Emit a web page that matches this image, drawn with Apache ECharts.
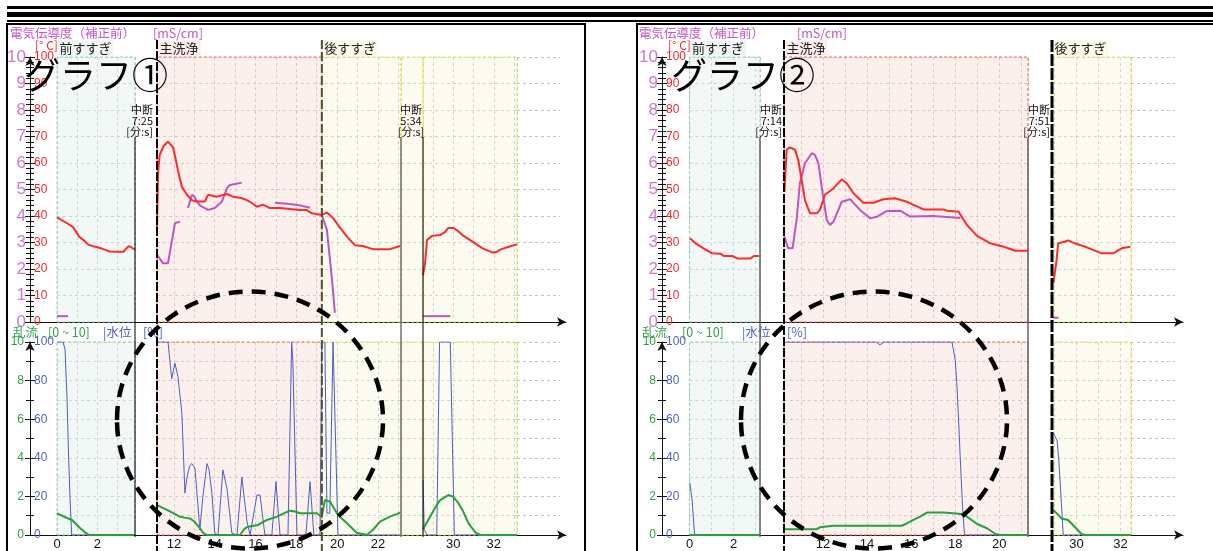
<!DOCTYPE html>
<html lang="ja">
<head>
<meta charset="utf-8">
<title>電気伝導度・乱流・水位</title>
<script src="https://cdn.jsdelivr.net/npm/echarts@6.0.0/dist/echarts.min.js"></script>
<style>
  html, body { margin: 0; padding: 0; background: #fff; }
  #chart { width: 1213px; height: 551px; }
</style>
</head>
<body>
<div id="chart"></div>
<script>
// ---------- measured series, each point is [minute, value] ----------
// graph ①
const g1Temp = [ // °C (red, 0–100)
  [0, 39.5], [0.3, 38.2], [0.6, 36.8], [0.8, 35.8], [0.95, 34], [1.1, 32.2], [1.3, 31], [1.55, 29.2],
  [1.8, 28.6], [2.1, 28], [2.4, 27.2], [2.6, 26.6], [3.0, 26.5], [3.3, 26.5], [3.45, 27.8], [3.55, 28.6],
  [3.65, 28.4], [3.75, 27.8], [3.87, 27.4],
  [11.17, 35.5], [11.22, 56], [11.3, 63], [11.5, 66.5], [11.71, 68], [11.95, 66], [12.1, 61], [12.2, 57],
  [12.39, 51], [12.64, 48], [12.88, 46], [13.1, 45.5], [13.52, 45.5], [13.67, 48], [14.1, 47.3], [14.6, 48.3],
  [14.9, 47.3], [15.3, 46.8], [15.58, 46], [15.8, 45], [16.07, 43.5], [16.36, 44.3], [16.7, 43], [17.2, 43],
  [17.69, 42.6], [18.18, 42.3], [18.5, 42.3], [18.76, 41], [19.25, 40.4], [19.5, 41.3], [19.8, 39.2],
  [20.1, 36], [20.48, 32.2], [20.87, 29], [21.26, 28.7], [21.75, 27.5], [22.59, 27.5], [23.1, 28.7],
  [28.5, 17.7], [28.6, 22], [28.7, 31], [28.95, 32.5], [29.35, 32.8], [29.6, 34], [29.75, 35.5], [30.0, 35.5],
  [30.2, 34.5], [30.45, 32.8], [30.95, 30.3], [31.45, 27.8], [31.95, 26.2], [32.1, 26.3], [32.35, 27.4],
  [32.75, 28.4], [33.15, 29.3]
];
const g1Cond = [ // mS/cm (purple, 0–10)
  [0, 0.22], [0.55, 0.22], [0.56, null],
  [11.17, 2.53], [11.46, 2.22], [11.71, 2.22], [12.05, 3.73], [12.29, 3.78], [12.4, null],
  [12.69, 4.3], [12.88, 4.8], [13.0, 4.75], [13.08, 4.6], [13.27, 4.4], [13.67, 4.23], [14.0, 4.3],
  [14.35, 4.54], [14.6, 5.05], [14.75, 5.17], [15.33, 5.26], [15.4, null],
  [16.95, 4.5], [17.69, 4.45], [18.18, 4.4], [18.67, 4.31], [18.9, null],
  [19.25, 4.04], [19.5, 3.47], [19.75, 1.58], [19.89, 0.35], [19.95, null],
  [28.5, 0.22], [29.85, 0.22]
];
const g1Level = [ // % (blue)
  [0, 100], [0.3, 100], [0.4, 96], [0.5, 70], [0.57, 42], [0.65, 18], [0.73, 0], [3.87, 0],
  [11.17, 100], [11.71, 100], [11.89, 81], [12.05, 89], [12.2, 82], [12.39, 63], [12.54, 21.7], [12.64, 30],
  [12.78, 36], [12.88, 37], [13.03, 34.7], [13.18, 15], [13.27, 2.6], [13.42, 20], [13.62, 37], [13.72, 34],
  [13.86, 21.7], [14.0, 1], [14.16, 0], [14.4, 33.7], [14.6, 24], [14.84, 1], [15.09, 0], [15.33, 30],
  [15.58, 7], [15.73, 0], [16.07, 20.7], [16.22, 20.7], [16.46, 0], [16.8, 0], [17.0, 27.6], [17.2, 0],
  [17.59, 0], [17.77, 100], [17.83, 90], [18.03, 0], [18.47, 0], [18.67, 27.6], [18.86, 0], [19.16, 0],
  [19.25, 100], [19.4, 100], [19.5, 11.3], [19.64, 11.3], [19.8, 100], [19.89, 100], [20.04, 0], [23.13, 0],
  [28.5, 28.5], [28.56, 3], [28.7, 0], [29.18, 0], [29.32, 100], [29.85, 100], [30.05, 0], [33.15, 0]
];
const g1Turb = [ // 0–10 (green)
  [0, 1.12], [0.5, 0.88], [0.75, 0.78], [1.05, 0.45], [1.4, 0.12], [1.6, 0], [3.87, 0],
  [11.17, 1.55], [11.66, 1.3], [12.29, 0.95], [12.54, 0.9], [12.78, 0.86], [13.0, 0.7], [13.27, 0.36],
  [13.42, 0.12], [13.6, 0], [15.24, 0], [15.44, 0.3], [15.63, 0.43], [16.12, 0.52], [16.56, 0.78],
  [17.05, 0.95], [17.44, 1.15], [17.69, 1.26], [17.93, 1.22], [18.18, 1.13], [19.0, 1.13], [19.24, 0.93],
  [19.4, 1.81], [19.65, 1.73], [20.04, 1.04], [20.47, 0.62], [20.96, 0.12], [21.45, 0], [21.75, 0.26],
  [22.1, 0.69], [22.59, 0.95], [23.1, 1.16],
  [28.5, 0.3], [28.85, 0.95], [29.15, 1.5], [29.35, 1.81], [29.75, 2.07], [30.0, 1.98], [30.25, 1.65],
  [30.45, 1.3], [30.75, 0.6], [31.1, 0.12], [31.35, 0], [33.15, 0]
];
// graph ②
const g2Temp = [
  [0.02, 31.6], [0.27, 29.7], [0.64, 27.8], [1.03, 25.9], [1.41, 25.8], [1.55, 24.9], [1.94, 24.9],
  [2.17, 24], [2.77, 24], [2.92, 24.9], [3.15, 24.9],
  [10.25, 49.2], [10.35, 65], [10.5, 65.9], [10.73, 65], [10.88, 61], [11.03, 53.6], [11.18, 46],
  [11.41, 41], [11.71, 41], [11.86, 42.3], [12.09, 48], [12.47, 50.4], [12.85, 53.8], [13.08, 52.3],
  [13.38, 48.6], [13.83, 45], [14.29, 45], [14.74, 46.3], [15.27, 46.7], [15.8, 45.4], [16.1, 44.2],
  [16.56, 42.5], [17.47, 42.5], [17.62, 42], [18.15, 41.6], [18.53, 36.6], [18.99, 32.5], [19.59, 29.7],
  [20.2, 28.4], [20.73, 26.9], [21.3, 26.9],
  [28.95, 14.6], [29.09, 22.8], [29.17, 29.7], [29.47, 30.3], [29.62, 30.8], [29.92, 29.7], [30.3, 28.7],
  [30.76, 27.2], [31.14, 25.9], [31.67, 25.9], [32.05, 27.8], [32.45, 28.4]
];
const g2Cond = [
  [10.25, 3.22], [10.42, 2.78], [10.62, 2.78], [10.8, 3.85], [10.95, 5.23], [11.18, 5.99], [11.49, 6.37],
  [11.64, 6.3], [11.79, 5.99], [11.94, 5.1], [12.17, 3.85], [12.32, 3.66], [12.47, 3.78], [12.85, 4.54],
  [13.23, 4.63], [13.68, 4.23], [14.14, 3.91], [14.44, 3.97], [14.9, 4.19], [15.5, 4.2], [15.95, 3.98],
  [17.01, 4.0], [18.23, 3.92],
  [28.95, 0.16], [29.18, 0.16]
];
const g2Level = [
  [0.02, 26.8], [0.12, 18], [0.23, 0], [3.2, 0],
  [10.23, 100], [14.41, 100], [14.59, 98.5], [14.77, 100], [17.85, 100], [18.0, 90.7], [18.08, 76.8],
  [18.15, 59.6], [18.23, 38.9], [18.33, 14.7], [18.42, 0], [21.3, 0],
  [28.95, 52.7], [29.12, 49], [29.2, 38.9], [29.29, 21.6], [29.4, 0], [32.48, 0]
];
const g2Turb = [
  [0.02, 0], [3.2, 0],
  [10.25, 0.3], [11.71, 0.3], [11.86, 0.4], [12.47, 0.48], [15.58, 0.48], [15.8, 0.6], [16.1, 0.78],
  [16.41, 0.95], [16.71, 1.16], [17.47, 1.16], [18.3, 1.09], [18.53, 0.95], [18.99, 0.57], [19.44, 0.35],
  [19.82, 0.05], [20.05, 0], [21.3, 0],
  [28.95, 1.3], [29.32, 0.86], [29.62, 0.78], [29.92, 0.43], [30.23, 0.05], [30.4, 0], [32.48, 0]
];

// washing phases [start minute, end minute]
const phaseNames = ['前すすぎ', '主洗浄', '後すすぎ'];
const g1Phases = [[0, 3.87], [11.17, 19.25], [19.25, 33.15]];
const g2Phases = [[0, 3.2], [10.23, 21.3], [28.89, 32.48]];
// pause durations [分:s]
const g1Pauses = ['7:25', '5:34'];
const g2Pauses = ['7:14', '7:51'];
const graphTitles = ['グラフ①', 'グラフ②'];

// ---------- styling ----------
const JP = "'Noto Sans CJK JP', 'Noto Sans', sans-serif";
const NUM = "'Liberation Sans', Arial, sans-serif";
const COL = {
  temp: '#ff2a2a', cond: '#c055c0', level: '#4a5fc4', turb: '#27a03c', grid: '#c4c4c4',
  fill: ['rgba(222,238,230,0.4)', 'rgba(248,214,206,0.36)', 'rgba(242,242,205,0.32)'],
  edge: ['#8ed4aa', '#ff6555', '#e6e050'],
  tag: ['#eff6f2', '#fcede9', '#fafae9']
};

// pixel layout of the two graphs; each segment: [t0, t1, x0, x1]
const PANEL = { top: [57, 322], bottom: [342, 535] };
const GRAPHS = [
  {
    title: graphTitles[0], temp: g1Temp, cond: g1Cond, level: g1Level, turb: g1Turb,
    phases: g1Phases, pauses: g1Pauses,
    frame: [7, 585], axisX: 30, arrowX: 566, tailX: 560, titleX: 24,
    segs: [[0, 3.87, 57, 135], [11.17, 23.13, 157, 401], [28.5, 33.15, 423, 517]],
    head: { jp: 10, unit: 153, degC: 35 },
    foot: [13, 48, 103, 143],
    pauseText: [{ x: 153, align: 'right' }, { x: 411, align: 'center' }],
    pauseLines: [{ x: 135, c: '#000', w: 1 }, { x: 401, c: '#707070', w: 1.5 }, { x: 423, c: '#000', w: 1 }],
    phaseLines: [null, { c: '#000', w: 2, d: [9, 2] }, { c: '#4d4d38', w: 2, d: [9, 3] }]
  },
  {
    title: graphTitles[1], temp: g2Temp, cond: g2Cond, level: g2Level, turb: g2Turb,
    phases: g2Phases, pauses: g2Pauses,
    frame: [637, 1216], axisX: 662, arrowX: 1183, tailX: 1175, titleX: 671,
    segs: [[0, 3.2, 689.5, 760], [10.23, 21.3, 784, 1028], [28.89, 32.48, 1052, 1131]],
    head: { jp: 639, unit: 797, degC: 668 },
    foot: [642, 682, 742, 787],
    pauseText: [{ x: 782, align: 'right' }, { x: 1050, align: 'right' }],
    pauseLines: [{ x: 760, c: '#666', w: 1.5 }, { x: 1028, c: '#666', w: 1.5 }],
    phaseLines: [null, { c: '#000', w: 2, d: [9, 2] }, { c: '#000', w: 3, d: [12, 2] }]
  }
];

const option = {
  animation: false, backgroundColor: '#fff',
  grid: [], xAxis: [], yAxis: [], series: [], graphic: { elements: [] }
};
const gfx = option.graphic.elements;
const dashGrid = { show: true, lineStyle: { color: COL.grid, type: [3, 3], width: 1 } };

function addGrid(x0, x1, y0, y1) {
  option.grid.push({ left: x0, top: y0, width: x1 - x0, height: y1 - y0, containLabel: false, outerBoundsMode: 'none', show: false });
  return option.grid.length - 1;
}
function minuteLabel(v) {
  const r = Math.round(v);
  return Math.abs(v - r) < 1e-6 && r % 2 === 0 ? String(r) : '';
}
function inRange(arr, t0, t1) {
  return arr.filter(p => p[0] >= t0 - 1e-9 && p[0] <= t1 + 1e-9);
}
function timeToX(G, t) {
  for (const s of G.segs) {
    if (t >= s[0] - 1e-9 && t <= s[1] + 1e-9) return s[2] + (t - s[0]) * (s[3] - s[2]) / (s[1] - s[0]);
  }
  return null;
}
function lineSeries(xi, yi, data, color, width) {
  option.series.push({
    type: 'line', xAxisIndex: xi, yAxisIndex: yi, data: data, symbol: 'none', showSymbol: false,
    connectNulls: false, silent: true, z: 3, lineStyle: { color: color, width: width }
  });
}
function shadeSeries(xi, yi, areas) {
  option.series.push({
    type: 'line', xAxisIndex: xi, yAxisIndex: yi, data: [], symbol: 'none', silent: true, clip: false,
    lineStyle: { width: 0 }, markArea: { silent: true, data: areas }
  });
}
function plainAxes(gi, tMin, tMax, top) {
  const xi = option.xAxis.length;
  option.xAxis.push({ type: 'value', gridIndex: gi, min: tMin, max: tMax, show: false });
  const yi = option.yAxis.length;
  option.yAxis.push({
    type: 'value', gridIndex: gi, min: 0, max: top ? 10 : 100, interval: top ? 1 : 10,
    axisLine: { show: false }, axisTick: { show: false }, axisLabel: { show: false }, splitLine: dashGrid
  });
  return [xi, yi];
}

GRAPHS.forEach(G => {
  ['top', 'bottom'].forEach(panel => {
    const [y0, y1] = PANEL[panel];
    const top = panel === 'top';

    // ruler axes and the base time axis line
    let gi = addGrid(G.axisX, G.arrowX, y0, y1);
    option.xAxis.push({
      type: 'value', gridIndex: gi, min: 0, max: 1,
      axisLine: { show: true, onZero: false, symbol: ['none', 'arrow'], symbolSize: [7, 9], lineStyle: { color: '#111', width: 1 } },
      axisTick: { show: false }, axisLabel: { show: false }, splitLine: { show: false }
    });
    option.yAxis.push({
      type: 'value', gridIndex: gi, position: 'left', min: 0, max: 10, interval: top ? 1 : 2,
      axisLine: { show: true, onZero: false, symbol: ['none', 'arrow'], symbolSize: [7, 9], lineStyle: { color: '#111' } },
      axisTick: { show: true, length: 5, lineStyle: { color: '#111' } },
      minorTick: { show: true, splitNumber: top ? 5 : 2, length: 4, lineStyle: { color: '#111' } },
      axisLabel: { color: top ? '#c97ac9' : '#2f9f4a', fontSize: top ? 17 : 12, margin: top ? 4 : 6, fontFamily: NUM },
      splitLine: { show: false }
    });
    option.yAxis.push({
      type: 'value', gridIndex: gi, position: 'left', min: 0, max: 100, interval: top ? 10 : 20,
      axisLine: { show: false },
      axisTick: { show: true, inside: true, length: 5, lineStyle: { color: '#111' } },
      minorTick: { show: true, splitNumber: top ? 5 : 2, length: 4, lineStyle: { color: '#111' } },
      axisLabel: { inside: true, color: top ? '#f02828' : '#4a5fc8', fontSize: 12, margin: 4, fontFamily: NUM },
      splitLine: { show: false }
    });

    // time segments
    G.segs.forEach(s => {
      gi = addGrid(s[2], s[3], y0, y1);
      const xi = option.xAxis.length;
      option.xAxis.push({
        type: 'value', gridIndex: gi, min: s[0], max: s[1], minInterval: 1, maxInterval: 1, splitNumber: 20,
        axisLine: { show: false }, axisTick: { show: false },
        axisLabel: top ? { show: false } : { show: true, color: '#111', fontSize: 13, margin: 3, fontFamily: NUM, formatter: minuteLabel },
        splitLine: dashGrid
      });
      const yi = option.yAxis.length;
      option.yAxis.push({
        type: 'value', gridIndex: gi, min: 0, max: top ? 10 : 100, interval: top ? 1 : 10,
        axisLine: { show: false }, axisTick: { show: false }, axisLabel: { show: false }, splitLine: dashGrid
      });
      option.yAxis.push({ type: 'value', gridIndex: gi, min: 0, max: top ? 100 : 10, show: false });

      const areas = [];
      G.phases.forEach((p, pi) => {
        const a = Math.max(p[0], s[0]), b = Math.min(p[1], s[1]);
        if (b - a <= 1e-9) return;
        const tag = top && p[0] >= s[0] - 1e-9 && p[0] < s[1];
        areas.push([{
          name: phaseNames[pi], xAxis: a, yAxis: 0,
          itemStyle: { color: COL.fill[pi], borderColor: COL.edge[pi], borderWidth: 1, borderType: [3, 2] },
          label: tag ? {
            show: true, position: [1, -16], color: '#222', fontSize: 13, fontFamily: JP,
            backgroundColor: COL.tag[pi], padding: [0, 2], lineHeight: 15
          } : { show: false }
        }, { xAxis: b, yAxis: top ? 10 : 100 }]);
      });
      shadeSeries(xi, yi, areas);

      if (top) {
        lineSeries(xi, yi, inRange(G.cond, s[0], s[1]), COL.cond, 2);
        lineSeries(xi, yi + 1, inRange(G.temp, s[0], s[1]), COL.temp, 2);
      } else {
        lineSeries(xi, yi, inRange(G.level, s[0], s[1]), COL.level, 1);
        lineSeries(xi, yi + 1, inRange(G.turb, s[0], s[1]), COL.turb, 2);
      }
    });

    // a pause that falls inside one phase keeps that phase's shading and grid
    for (let i = 0; i + 1 < G.segs.length; i++) {
      const a = G.segs[i], b = G.segs[i + 1];
      const pi = G.phases.findIndex(p => p[0] <= a[1] && p[1] >= b[0]);
      if (pi < 0) continue;
      gi = addGrid(a[3], b[2], y0, y1);
      const [xi, yi] = plainAxes(gi, a[1], b[0], top);
      shadeSeries(xi, yi, [[{
        xAxis: a[1], yAxis: 0,
        itemStyle: { color: COL.fill[pi], borderColor: COL.edge[pi], borderWidth: 1, borderType: [3, 2] }
      }, { xAxis: b[0], yAxis: top ? 10 : 100 }]]);
    }

    // horizontal grid beyond the last phase
    const last = G.segs[G.segs.length - 1];
    gi = addGrid(last[3], G.tailX, y0, y1);
    plainAxes(gi, 0, 1, top);
  });

  // ---------- annotations ----------
  const [fl, fr] = G.frame;
  gfx.push({ type: 'rect', z: 50, shape: { x: fl, y: 24, width: fr - fl, height: 560 }, style: { fill: 'none', stroke: '#000', lineWidth: 2 } });

  const txt = (x, y, s, fill, size, align, z) => gfx.push({
    type: 'text', z: z || 40,
    style: { x: x, y: y, text: s, fill: fill, font: size + 'px ' + JP, align: align || 'left', verticalAlign: 'middle', textAlign: align || 'left', textVerticalAlign: 'middle' }
  });
  txt(G.head.jp, 33, '電気伝導度（補正前）', '#c455c4', 12.5);
  txt(G.head.unit, 33, '[mS/cm]', '#c455c4', 12.5);
  txt(G.head.degC, 45, '[° C]', '#f02828', 12, 'left', 1);
  txt(G.foot[0], 332, '乱流', '#2f9f4a', 12.5);
  txt(G.foot[1], 332, '[0 ~ 10]', '#2f9f4a', 12.5);
  txt(G.foot[2], 332, '|水位', '#4a5fc8', 12.5);
  txt(G.foot[3], 332, '[%]', '#4a5fc8', 12.5);

  // pause separators and their durations
  G.pauseLines.forEach(l => gfx.push({
    type: 'line', z: 45, shape: { x1: l.x, y1: 137, x2: l.x, y2: 537 }, style: { stroke: l.c, lineWidth: l.w }
  }));
  G.pauses.forEach((p, i) => {
    const pt = G.pauseText[i];
    txt(pt.x, 110, '中断', '#111', 11, pt.align);
    txt(pt.x, 121, p, '#111', 11, pt.align);
    txt(pt.x, 131.5, '[分:s]', '#111', 11, pt.align);
  });
  // phase start markers
  G.phaseLines.forEach((st, pi) => {
    if (!st) return;
    const x = timeToX(G, G.phases[pi][0]);
    gfx.push({ type: 'line', z: 46, shape: { x1: x, y1: 40, x2: x, y2: 551 }, style: { stroke: st.c, lineWidth: st.w, lineDash: st.d } });
  });

  // graph name
  gfx.push({
    type: 'text', z: 60,
    style: { x: G.titleX, y: 75, text: G.title, fill: '#000', font: '36px ' + JP, align: 'left', verticalAlign: 'middle', textAlign: 'left', textVerticalAlign: 'middle' }
  });
});

// highlight rings around the main-wash water-level traces
[[250, 420], [874, 420]].forEach(c => gfx.push({
  type: 'ellipse', z: 70, shape: { cx: c[0], cy: c[1], rx: 133, ry: 128.5 },
  style: { fill: 'none', stroke: '#000', lineWidth: 4.5, lineDash: [14, 9] }
}));

// heading rules
[[6, 3], [12, 5], [20, 2]].forEach(b => gfx.push({
  type: 'rect', z: 50, shape: { x: 7, y: b[0], width: 1206, height: b[1] }, style: { fill: '#000' }
}));

const chart = echarts.init(document.getElementById('chart'), null, { renderer: 'canvas' });
chart.setOption(option);
</script>
</body>
</html>
